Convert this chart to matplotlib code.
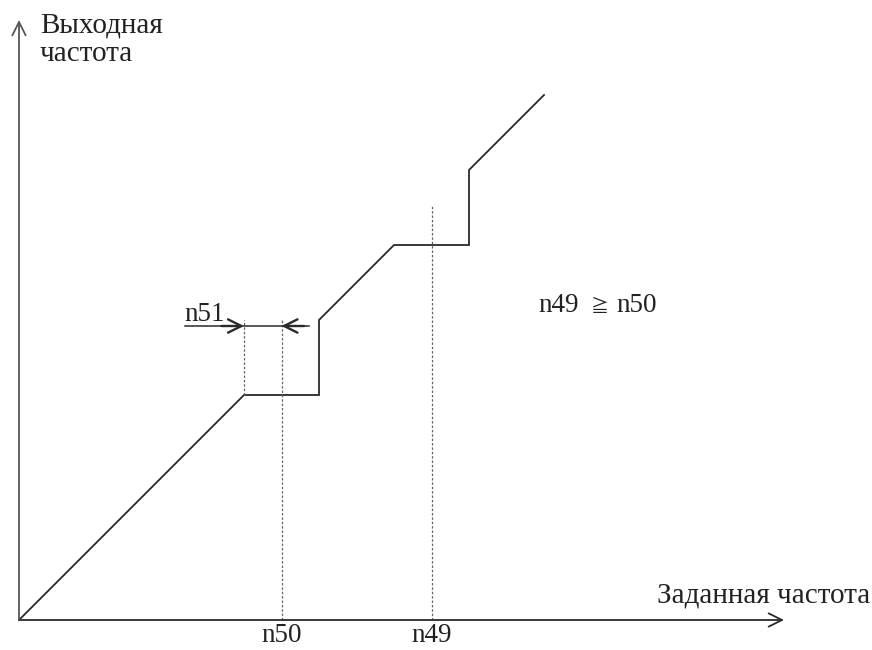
import matplotlib
matplotlib.use("Agg")
import matplotlib.pyplot as plt

# output frequency vs. set frequency with two frequency jumps
set_freq = [0, 3, 4, 4, 5, 6, 6, 7]
out_freq = [0, 3, 3, 4, 5, 5, 6, 7]

# jump points and band width
n50 = 3.5
n49 = 5.5
n51_lo = 3.0
n51_hi = 3.5

x_axis_end = 10.2
y_axis_end = 8.0

plt.rcParams["font.family"] = ["Liberation Serif", "Noto Sans CJK JP", "DejaVu Sans"]

fig = plt.figure(figsize=(8.72, 6.5), dpi=100)
ax = fig.add_axes([0, 0, 1, 1])
ax.set_xlim(-19 / 75, 853 / 75)
ax.set_ylim(-30 / 75, 620 / 75)
ax.axis("off")

axis_col = "#555555"
line_col = "#2a2a2a"
dot_col = "#666666"

# axes with open arrows
ax.annotate("", xy=(x_axis_end, 0), xytext=(0, 0),
            arrowprops=dict(arrowstyle="->", color=line_col, lw=1.3,
                            mutation_scale=24, shrinkA=0, shrinkB=0))
ax.annotate("", xy=(0, y_axis_end), xytext=(0, 0),
            arrowprops=dict(arrowstyle="->", color=axis_col, lw=1.3,
                            mutation_scale=24, shrinkA=0, shrinkB=0))

# characteristic
ax.plot(set_freq, out_freq, color=line_col, lw=1.3, solid_joinstyle="miter")

# dotted guides
ax.plot([n51_lo, n51_lo], [out_freq[1], 4.0], color=dot_col, lw=0.9, ls=(0, (2, 1.5)))
ax.plot([n50, n50], [0, 4.0], color=dot_col, lw=0.9, ls=(0, (2, 1.5)))
ax.plot([n49, n49], [0, 5.52], color=dot_col, lw=0.9, ls=(0, (2, 1.5)))

# n51 band marker
y_band = 3.92
ax.plot([n51_lo - 0.79, n51_hi + 0.37], [y_band, y_band], color=line_col, lw=1.1)
ax.annotate("", xy=(n51_lo, y_band), xytext=(n51_lo - 0.3, y_band),
            arrowprops=dict(arrowstyle="->", color=line_col, lw=1.7,
                            mutation_scale=24, shrinkA=0, shrinkB=0))
ax.annotate("", xy=(n51_hi, y_band), xytext=(n51_hi + 0.3, y_band),
            arrowprops=dict(arrowstyle="->", color=line_col, lw=1.7,
                            mutation_scale=24, shrinkA=0, shrinkB=0))

fs = 19.5
fs_ru = 21
txt = "#222222"
ax.text(n51_lo - 0.79, 3.99, "n51", fontsize=fs, color=txt,
        ha="left", va="baseline")
ax.text(n50, -0.3, "n50", fontsize=fs, color=txt, ha="center", va="baseline")
ax.text(n49, -0.3, "n49", fontsize=fs, color=txt, ha="center", va="baseline")

# relation note
ax.text(6.92, 4.107, "n49", fontsize=fs, color=txt, ha="left", va="baseline")
ax.text(7.74, 4.107, "\u2267", fontsize=13, color=txt, ha="center",
        va="baseline", family=["Noto Sans CJK JP", "DejaVu Sans"])
ax.text(7.97, 4.107, "n50", fontsize=fs, color=txt, ha="left", va="baseline")

ax.text(11.35, 0.227, "Заданная частота", fontsize=fs_ru, color=txt,
        ha="right", va="baseline")
ax.text(0.28, 7.84, "Выходная", fontsize=fs_ru, color=txt,
        ha="left", va="baseline")
ax.text(0.28, 7.453, "частота", fontsize=fs_ru, color=txt,
        ha="left", va="baseline")

fig.savefig("out.png", dpi=100)
